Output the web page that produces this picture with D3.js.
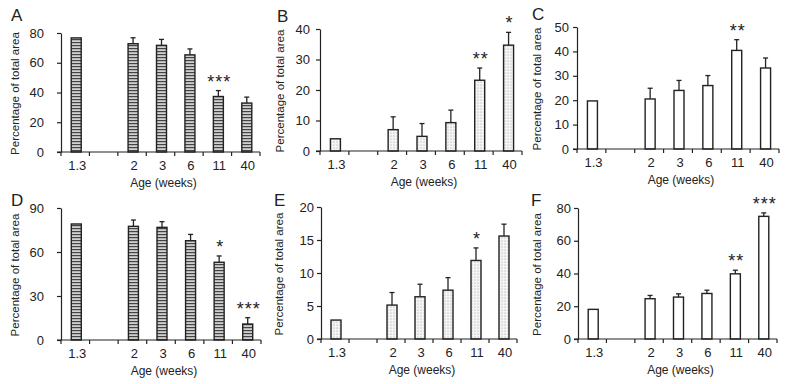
<!DOCTYPE html>
<html>
<head>
<meta charset="utf-8">
<script src="https://cdn.jsdelivr.net/npm/d3@7"></script>
<style>
  body { margin: 0; background: #fff; }
  svg { display: block; font-family: "Liberation Sans", Arial, sans-serif; }
</style>
</head>
<body>
<svg id="chart" width="788" height="384"></svg>
<script>
// Age groups (weeks); "gap" is the empty slot after 1.3
const ages = ["1.3", "gap", "2", "3", "6", "11", "40"];

// Panel A
const valuesA = [76.7, null, 72.8, 71.7, 65.3, 37.3, 32.9];
const errorsA = [0, null, 4, 4, 4, 4, 4];
const starsA = ["", "", "", "", "", "***", ""];
const ticksA = [0, 20, 40, 60, 80];

// Panel B
const valuesB = [4.0, null, 7.0, 4.8, 9.3, 23.2, 34.7];
const errorsB = [0, null, 4.2, 4.2, 4.1, 4.0, 4.2];
const starsB = ["", "", "", "", "", "**", "*"];
const ticksB = [0, 10, 20, 30, 40];

// Panel C
const valuesC = [19.7, null, 20.5, 24.0, 26.0, 40.4, 33.2];
const errorsC = [0, null, 4.4, 4.1, 4.1, 4.4, 4.1];
const starsC = ["", "", "", "", "", "**", ""];
const ticksC = [0, 10, 20, 30, 40, 50];

// Panel D
const valuesD = [79.1, null, 77.5, 76.8, 67.7, 53.0, 10.9];
const errorsD = [0, null, 4.3, 3.9, 4.3, 4.3, 4.3];
const starsD = ["", "", "", "", "", "*", "***"];
const ticksD = [0, 30, 60, 90];

// Panel E
const valuesE = [2.87, null, 5.14, 6.4, 7.4, 11.9, 15.6];
const errorsE = [0, null, 1.9, 1.9, 1.9, 1.9, 1.8];
const starsE = ["", "", "", "", "", "*", ""];
const ticksE = [0, 5, 10, 15, 20];

// Panel F
const valuesF = [18.1, null, 24.6, 25.6, 27.8, 39.8, 74.9];
const errorsF = [0, null, 2.0, 2.0, 2.0, 2.2, 2.1];
const starsF = ["", "", "", "", "", "**", "***"];
const ticksF = [0, 20, 40, 60, 80];

const svg = d3.select('#chart');
const ink = '#222';
const font = '"Liberation Sans", Arial, sans-serif';

// Fill patterns
const defs = svg.append('defs');
const stripes = defs.append('pattern')
  .attr('id', 'stripes')
  .attr('patternUnits', 'userSpaceOnUse')
  .attr('width', 6).attr('height', 3);
stripes.append('rect').attr('width', 6).attr('height', 3).attr('fill', '#d0d0d0');
stripes.append('rect').attr('width', 6).attr('height', 1.2).attr('fill', '#444');

const dots = defs.append('pattern')
  .attr('id', 'dots')
  .attr('patternUnits', 'userSpaceOnUse')
  .attr('width', 3).attr('height', 3);
dots.append('rect').attr('width', 3).attr('height', 3).attr('fill', '#f5f5f5');
dots.append('circle').attr('cx', 1).attr('cy', 1).attr('r', 0.55).attr('fill', '#999');

const panels = [
  { letter: 'A', values: valuesA, errors: errorsA, stars: starsA, ticks: ticksA, fill: 'url(#stripes)',
    x0: 61, x1: 260, top: 33, base: 152, pad: 13, titleX: 15, letterX: 11, letterY: 21 },
  { letter: 'B', values: valuesB, errors: errorsB, stars: starsB, ticks: ticksB, fill: 'url(#dots)',
    x0: 320, x1: 522, top: 29, base: 151, pad: 6, titleX: 280, letterX: 277, letterY: 22 },
  { letter: 'C', values: valuesC, errors: errorsC, stars: starsC, ticks: ticksC, fill: '#fff',
    x0: 577, x1: 779, top: 27, base: 149, pad: 4, titleX: 537, letterX: 532, letterY: 20 },
  { letter: 'D', values: valuesD, errors: errorsD, stars: starsD, ticks: ticksD, fill: 'url(#stripes)',
    x0: 61, x1: 261, top: 208, base: 340, pad: 13, titleX: 15, letterX: 11, letterY: 206 },
  { letter: 'E', values: valuesE, errors: errorsE, stars: starsE, ticks: ticksE, fill: 'url(#dots)',
    x0: 321, x1: 517, top: 207, base: 339, pad: 3, titleX: 279, letterX: 274, letterY: 206 },
  { letter: 'F', values: valuesF, errors: errorsF, stars: starsF, ticks: ticksF, fill: '#fff',
    x0: 578, x1: 777, top: 208, base: 339, pad: 3, titleX: 537, letterX: 531, letterY: 206 }
];

panels.forEach(p => {
  const g = svg.append('g');

  const x = d3.scaleBand().domain(ages).range([p.x0, p.x1]).padding(0);
  const y = d3.scaleLinear().domain([0, p.ticks[p.ticks.length - 1]]).range([p.base, p.top]);
  const barW = 10;
  const mid = d => x(d.age) + x.bandwidth() / 2 + 1;

  const rows = ages.map((a, i) => ({ age: a, v: p.values[i], e: p.errors[i], s: p.stars[i] }))
    .filter(d => d.v !== null);

  // Error bars (upper only)
  const err = rows.filter(d => d.e > 0);
  g.selectAll('.err').data(err).enter().append('line')
    .attr('x1', mid).attr('x2', mid)
    .attr('y1', d => y(d.v))
    .attr('y2', d => y(d.v + d.e))
    .attr('stroke', ink).attr('stroke-width', 1.3);
  g.selectAll('.cap').data(err).enter().append('line')
    .attr('x1', d => mid(d) - 2.5)
    .attr('x2', d => mid(d) + 2.5)
    .attr('y1', d => y(d.v + d.e))
    .attr('y2', d => y(d.v + d.e))
    .attr('stroke', ink).attr('stroke-width', 1.3);

  // Bars
  g.selectAll('.bar').data(rows).enter().append('rect')
    .attr('x', d => mid(d) - barW / 2)
    .attr('y', d => y(d.v))
    .attr('width', barW)
    .attr('height', d => y(0) - y(d.v))
    .attr('fill', p.fill)
    .attr('stroke', ink)
    .attr('stroke-width', 1.4);

  // Significance stars
  g.selectAll('.star').data(rows.filter(d => d.s)).enter().append('text')
    .attr('x', d => mid(d) + 1)
    .attr('y', d => y(d.v + d.e) - 3)
    .attr('text-anchor', 'middle')
    .attr('font-size', 18)
    .attr('letter-spacing', 1)
    .attr('fill', ink)
    .text(d => d.s);

  // Y axis
  g.append('g')
    .attr('transform', `translate(${p.x0},0)`)
    .call(d3.axisLeft(y).tickValues(p.ticks).tickSize(4).tickPadding(p.pad).tickSizeOuter(0))
    .call(a => a.select('.domain').attr('stroke', ink).attr('stroke-width', 1.2))
    .call(a => a.selectAll('.tick line').attr('stroke', ink).attr('stroke-width', 1.2))
    .call(a => a.selectAll('.tick text').attr('font-size', 13).attr('fill', ink).attr('font-family', font));

  // X axis line + ticks on band boundaries
  const bounds = ages.map(a => x(a)).concat([p.x1]);
  g.append('line')
    .attr('x1', p.x0 - 4).attr('x2', p.x1)
    .attr('y1', y(0)).attr('y2', y(0))
    .attr('stroke', ink).attr('stroke-width', 1.2);
  g.selectAll('.xt').data(bounds).enter().append('line')
    .attr('x1', d => d).attr('x2', d => d)
    .attr('y1', y(0)).attr('y2', y(0) + 4)
    .attr('stroke', ink).attr('stroke-width', 1.2);

  // X labels at band centres
  g.append('g')
    .attr('transform', `translate(0,${y(0)})`)
    .call(d3.axisBottom(x).tickSize(0).tickPadding(9).tickFormat(d => d === 'gap' ? '' : d))
    .call(a => a.select('.domain').remove())
    .call(a => a.selectAll('.tick text').attr('font-size', 13).attr('fill', ink)
      .attr('dx', 2).attr('font-family', font));

  // Axis titles
  g.append('text')
    .attr('x', (p.x0 + p.x1) / 2 + 3)
    .attr('y', y(0) + 35)
    .attr('text-anchor', 'middle')
    .attr('font-size', 12)
    .attr('fill', ink)
    .text('Age (weeks)');

  g.append('text')
    .attr('transform', `translate(${p.titleX},${(p.top + p.base) / 2 + 1}) rotate(-90)`)
    .attr('dy', '0.35em')
    .attr('text-anchor', 'middle')
    .attr('font-size', 11.5)
    .attr('fill', ink)
    .text('Percentage of total area');

  // Panel letter
  g.append('text')
    .attr('x', p.letterX)
    .attr('y', p.letterY)
    .attr('font-size', 17)
    .attr('fill', ink)
    .text(p.letter);
});
</script>
</body>
</html>
